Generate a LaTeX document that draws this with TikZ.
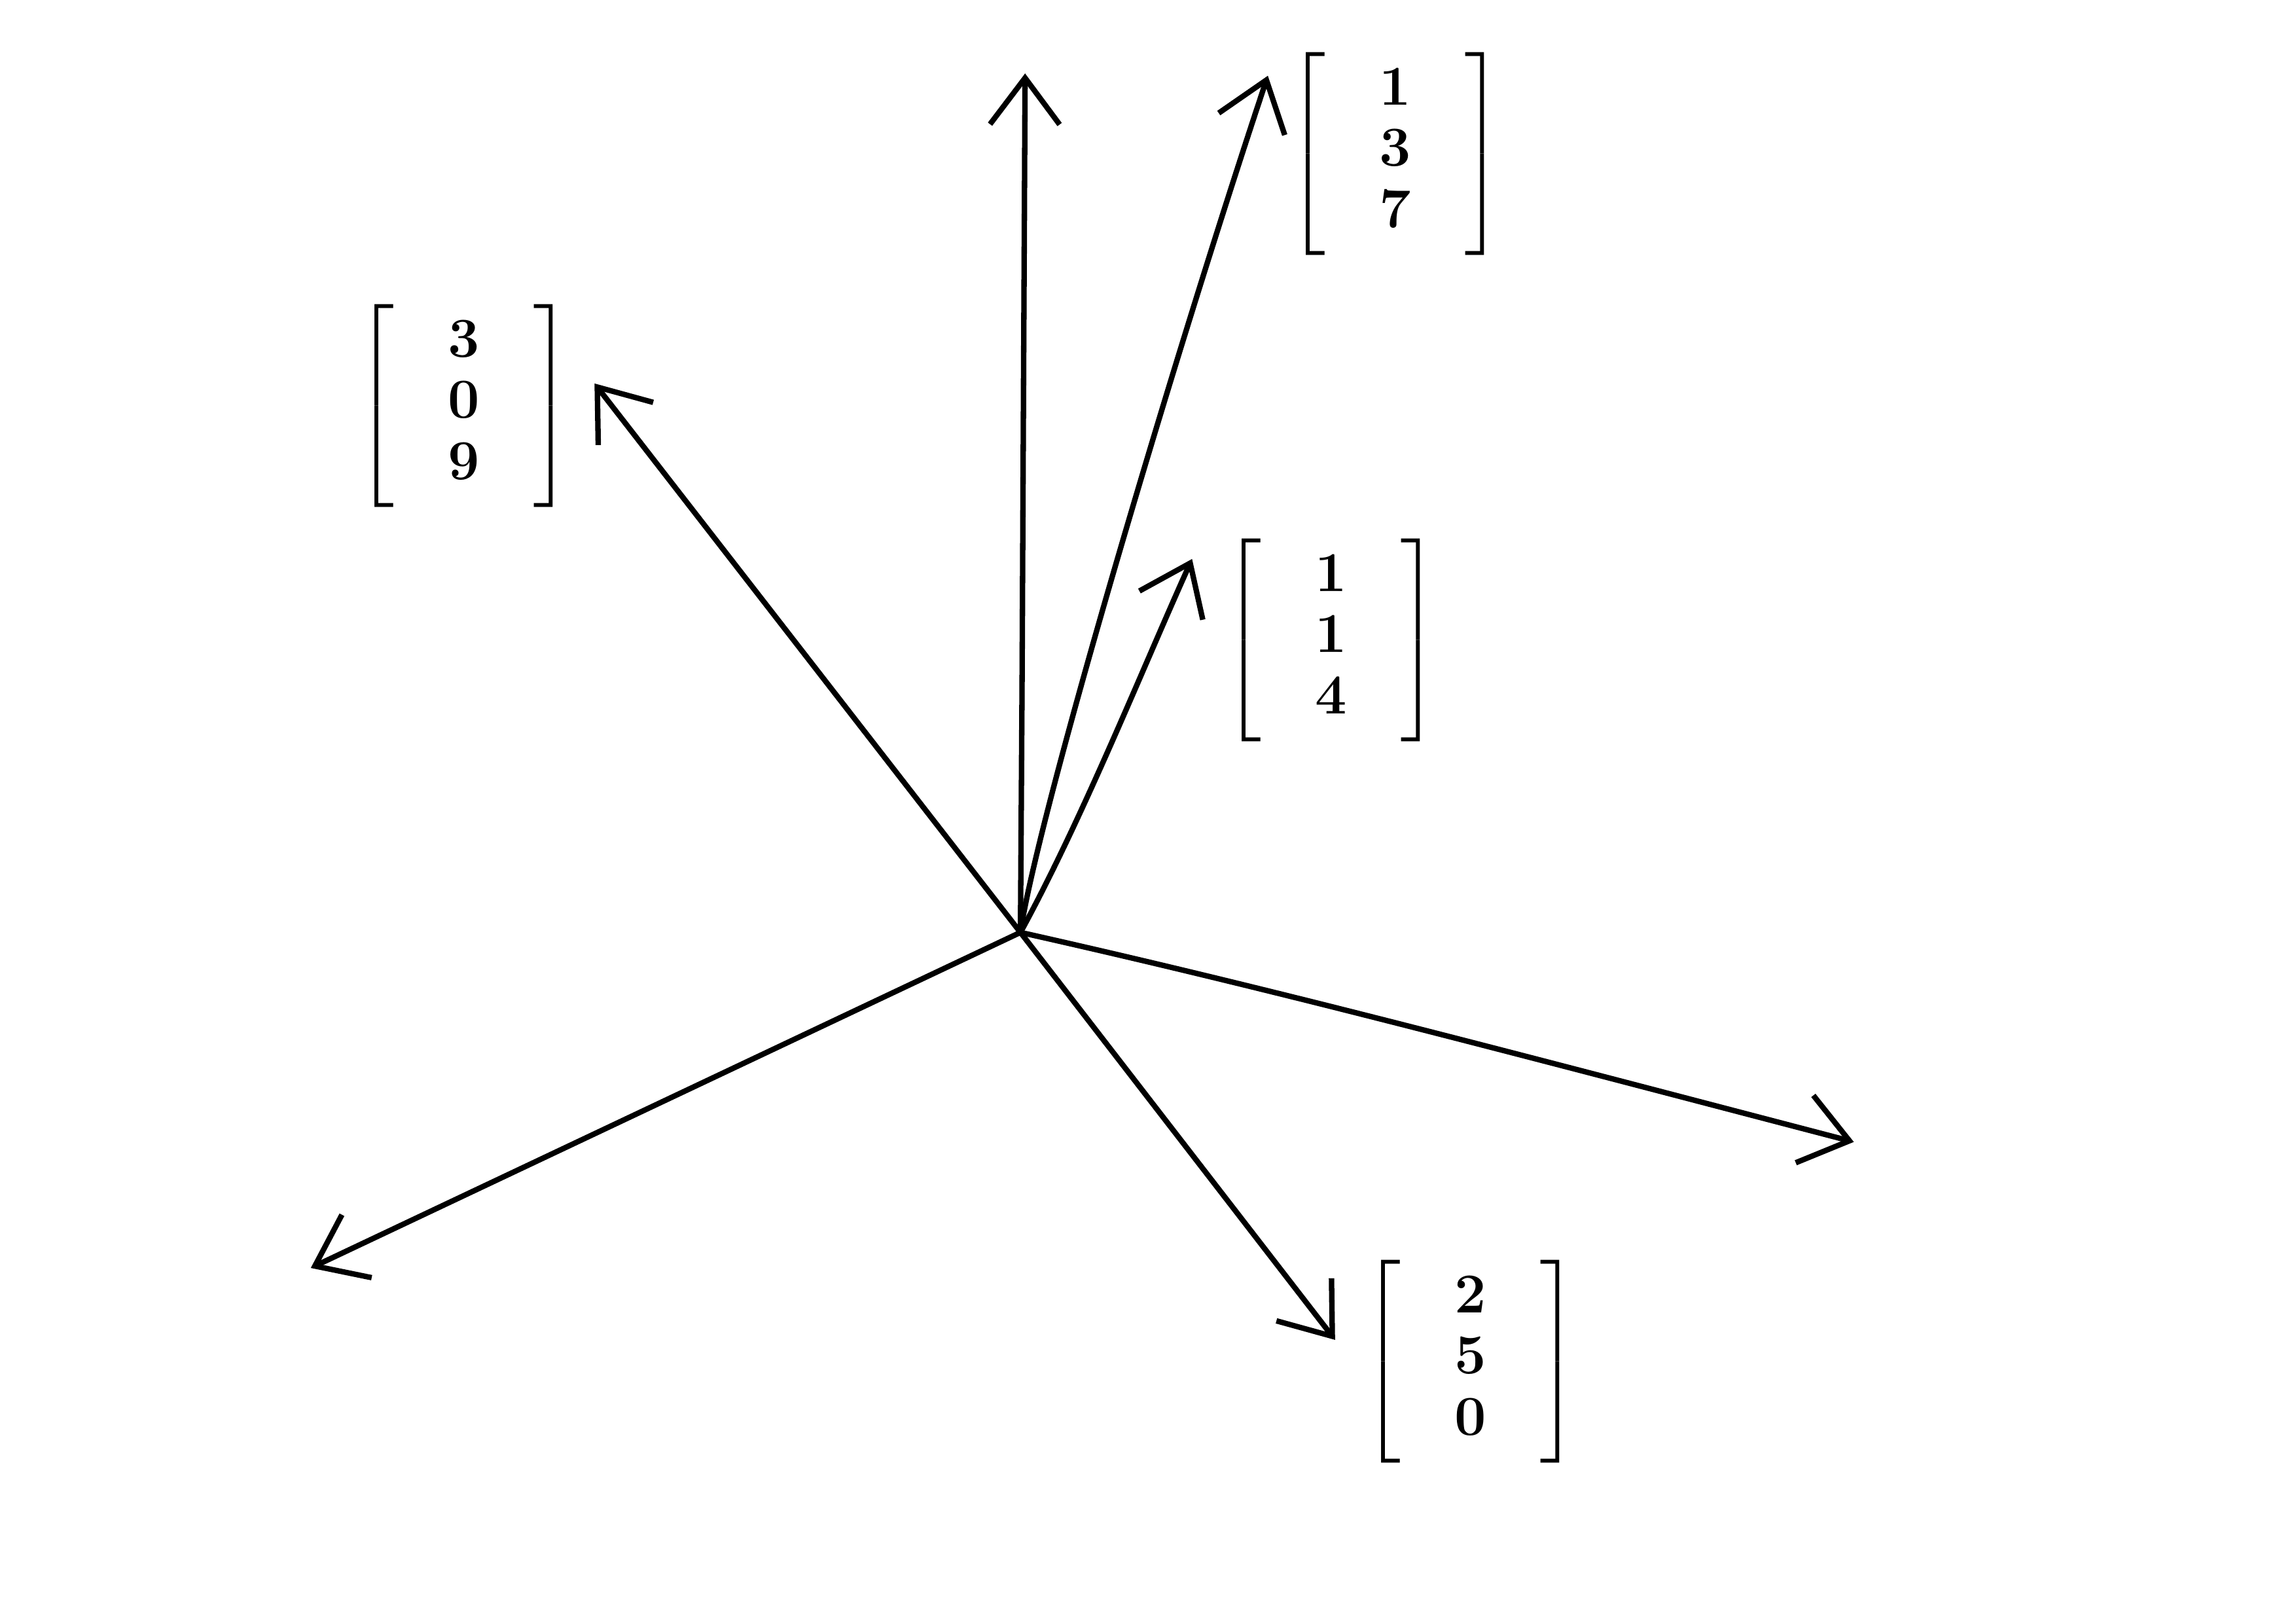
\documentclass[tikz,border=0pt]{standalone}
\usepackage{amsmath,amssymb}
\usepackage{tikz}
\usetikzlibrary{arrows.meta}

\newcommand{\colvec}[3]{$\left[\begin{array}{c}#1\\#2\\#3\end{array}\right]$}

\begin{document}
\begin{tikzpicture}[
    x=1cm,y=1cm,
    centre/.style={circle,inner sep=0pt,minimum size=1pt},
    vecarrow/.style={-{Straight Barb[length=6mm,width=9mm,line width=2pt]},line width=2pt,line cap=round,line join=round},
    veclabel/.style={inner sep=0pt,font=\huge\boldmath,
      execute at begin node={\setlength{\arraycolsep}{0.7cm}\renewcommand{\arraystretch}{0.9}}}
]
\useasboundingbox (0,0) rectangle (29.7,21);

% common tail of all arrows
\node[centre] (o) at (13.20,8.94) {};

% arrow tips
\coordinate (up)    at (13.26,20.05);
\coordinate (tip137) at (16.40,20.02);
\coordinate (tip114) at (15.42,13.77);
\coordinate (tip309) at (7.69,16.04);
\coordinate (dleft) at (4.02,4.60);
\coordinate (right) at (23.98,6.23);
\coordinate (tip250) at (17.27,3.67);

% vectors
\node[veclabel] (v137) at (18.05,19.01) {\colvec{1}{3}{7}};
\node[veclabel] (v309) at (6.00,15.75) {\colvec{3}{0}{9}};
\node[veclabel] (v114) at (17.22,12.72) {\colvec{1}{1}{4}};
\node[veclabel] (v250) at (19.02,3.39) {\colvec{2}{5}{0}};

\draw[vecarrow] (o.center) -- (13.22,12.0) -- (up);
\draw[vecarrow] (o.center) .. controls (13.41,10.39) and (15.15,16.27) .. (tip137);
\draw[vecarrow] (o.center) .. controls (14.0,10.4) and (14.8,12.4) .. (tip114);
\draw[vecarrow] (o.center) -- (tip309);
\draw[vecarrow] (o.center) -- (dleft);
\draw[vecarrow] (o.center) .. controls (16.5,8.2) and (19.5,7.4) .. (right);
\draw[vecarrow] (o.center) -- (tip250);
\end{tikzpicture}
\end{document}
